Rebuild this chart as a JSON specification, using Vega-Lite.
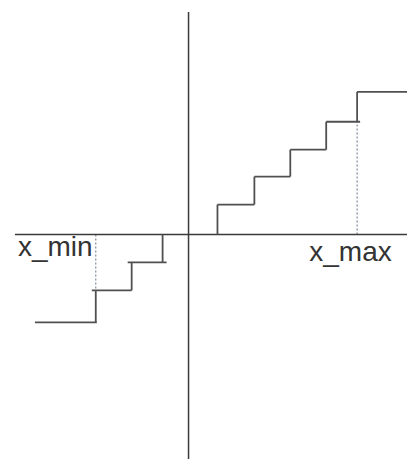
{
  "$schema": "https://vega.github.io/schema/vega-lite/v6.json",
  "width": 408,
  "height": 460,
  "autosize": {"type": "fit", "contains": "padding"},
  "padding": 0,
  "background": "white",
  "config": {"view": {"stroke": null}},
  "datasets": {
    "segs": [
      {"part": "axis", "x1": -174, "y1": 0, "x2": 219, "y2": 0},
      {"part": "axis", "x1": 0, "y1": 223, "x2": 0, "y2": -225},
      {"part": "step", "x1": 29, "y1": 0, "x2": 29, "y2": 30},
      {"part": "step", "x1": 29, "y1": 30, "x2": 66, "y2": 30},
      {"part": "step", "x1": 66, "y1": 30, "x2": 66, "y2": 58},
      {"part": "step", "x1": 66, "y1": 58, "x2": 102, "y2": 58},
      {"part": "step", "x1": 102, "y1": 58, "x2": 102, "y2": 85},
      {"part": "step", "x1": 102, "y1": 85, "x2": 138, "y2": 85},
      {"part": "step", "x1": 138, "y1": 85, "x2": 138, "y2": 113},
      {"part": "step", "x1": 138, "y1": 113, "x2": 172, "y2": 113},
      {"part": "step", "x1": 169, "y1": 113, "x2": 169, "y2": 143},
      {"part": "step", "x1": 169, "y1": 143, "x2": 219, "y2": 143},
      {"part": "step", "x1": -26, "y1": 0, "x2": -26, "y2": -28},
      {"part": "step", "x1": -61, "y1": -28, "x2": -22, "y2": -28},
      {"part": "step", "x1": -57, "y1": -28, "x2": -57, "y2": -56},
      {"part": "step", "x1": -97, "y1": -56, "x2": -57, "y2": -56},
      {"part": "step", "x1": -93, "y1": -56, "x2": -93, "y2": -88},
      {"part": "step", "x1": -154, "y1": -88, "x2": -92, "y2": -88},
      {"part": "guide", "x1": 169, "y1": 0, "x2": 169, "y2": 113},
      {"part": "guide", "x1": -93, "y1": 0, "x2": -93, "y2": -56}
    ],
    "labels": [
      {"label": "x_min", "x": -171, "y": -22},
      {"label": "x_max", "x": 121, "y": -27}
    ]
  },
  "layer": [
    {
      "data": {"name": "segs"},
      "transform": [{"filter": "datum.part === 'guide'"}],
      "mark": {"type": "rule", "color": "#7f8a99", "strokeWidth": 1.2, "strokeDash": [2, 2]},
      "encoding": {
        "x": {"field": "x1", "type": "quantitative", "scale": {"domain": [-189, 219], "nice": false, "zero": false}, "axis": null},
        "x2": {"field": "x2"},
        "y": {"field": "y1", "type": "quantitative", "scale": {"domain": [-225, 235], "nice": false, "zero": false}, "axis": null},
        "y2": {"field": "y2"}
      }
    },
    {
      "data": {"name": "segs"},
      "transform": [{"filter": "datum.part === 'axis'"}],
      "mark": {"type": "rule", "color": "#3a3a3a", "strokeWidth": 1.5},
      "encoding": {
        "x": {"field": "x1", "type": "quantitative"},
        "x2": {"field": "x2"},
        "y": {"field": "y1", "type": "quantitative"},
        "y2": {"field": "y2"}
      }
    },
    {
      "data": {"name": "segs"},
      "transform": [{"filter": "datum.part === 'step'"}],
      "mark": {"type": "rule", "color": "#505050", "strokeWidth": 1.8},
      "encoding": {
        "x": {"field": "x1", "type": "quantitative"},
        "x2": {"field": "x2"},
        "y": {"field": "y1", "type": "quantitative"},
        "y2": {"field": "y2"}
      }
    },
    {
      "data": {"name": "labels"},
      "mark": {"type": "text", "align": "left", "baseline": "alphabetic", "font": "Liberation Sans", "fontSize": 28, "color": "#333333"},
      "encoding": {
        "x": {"field": "x", "type": "quantitative"},
        "y": {"field": "y", "type": "quantitative"},
        "text": {"field": "label"}
      }
    }
  ]
}
